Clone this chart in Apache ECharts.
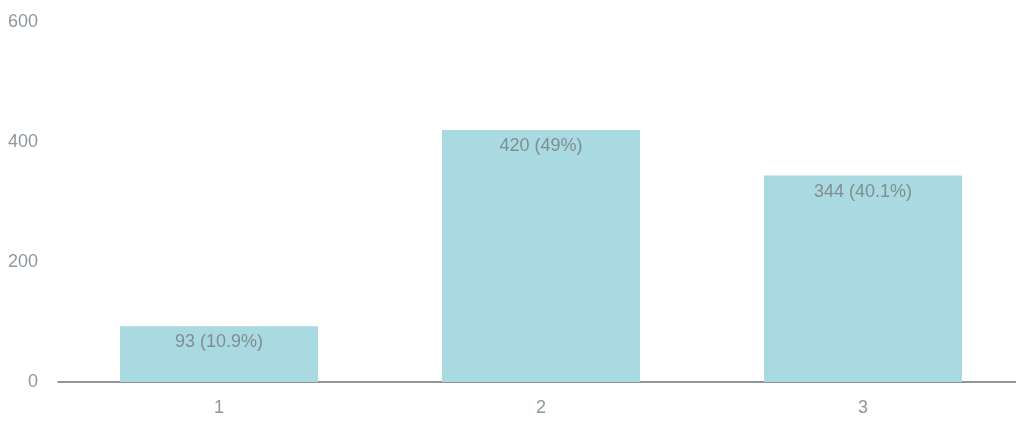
<!DOCTYPE html>
<html>
<head>
<meta charset="utf-8">
<script src="https://cdn.jsdelivr.net/npm/echarts@6/dist/echarts.min.js"></script>
<style>html,body{margin:0;padding:0;background:#fff;overflow:hidden;width:1016px;height:424px}#c{width:1030px;height:424px}</style>
</head>
<body>
<div id="c"></div>
<script>
const categories = ['1', '2', '3'];
const values = [93, 420, 344];
const percents = ['10.9%', '49%', '40.1%'];
const yTicks = [0, 200, 400, 600];

const chart = echarts.init(document.getElementById('c'));
const font = '"Liberation Sans Narrow", "Liberation Sans", Arial, sans-serif';
chart.setOption({
  animation: false,
  grid: { left: 58, right: 6, top: 22, bottom: 42, containLabel: false },
  xAxis: {
    type: 'category',
    data: categories,
    axisTick: { show: false },
    axisLine: { lineStyle: { color: '#6a7278', width: 1.5 } },
    axisLabel: { color: '#8c979e', fontFamily: font, fontSize: 18, margin: 17 }
  },
  yAxis: {
    type: 'value',
    min: yTicks[0], max: yTicks[yTicks.length - 1], interval: 200,
    splitLine: { show: false },
    axisLine: { show: false },
    axisTick: { show: false },
    axisLabel: { color: '#8c979e', fontFamily: font, fontSize: 18, margin: 20 }
  },
  series: [{
    type: 'bar',
    data: values,
    barWidth: '61.5%',
    itemStyle: { color: '#a9d9e1' },
    label: {
      show: true,
      position: 'insideTop',
      distance: 7,
      color: '#808e93',
      fontFamily: font,
      fontSize: 18,
      formatter: p => p.value + ' (' + percents[p.dataIndex] + ')'
    }
  }]
});
</script>
</body>
</html>
